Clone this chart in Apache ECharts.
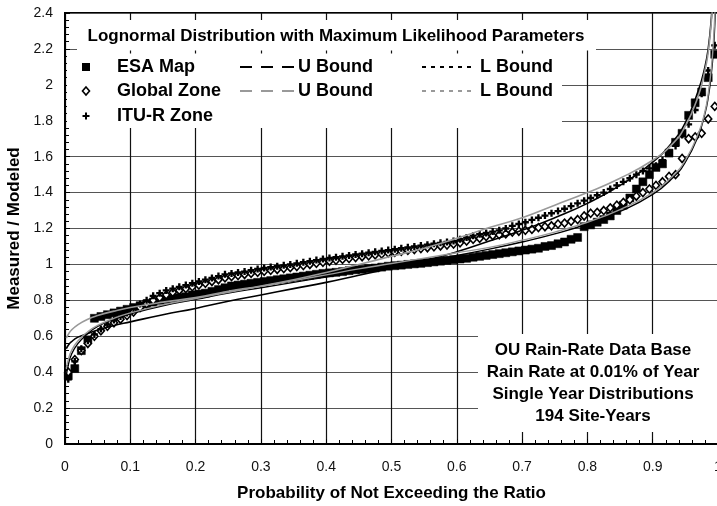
<!DOCTYPE html>
<html>
<head>
<meta charset="utf-8">
<script src="https://cdn.jsdelivr.net/npm/echarts@6/dist/echarts.min.js"></script>
<style>
html,body{margin:0;padding:0;background:#fff;}
#chart{width:717px;height:506px;}
</style>
</head>
<body>
<div id="chart"></div>
<script>
// ---------- data ----------
const xTicks = [0,0.1,0.2,0.3,0.4,0.5,0.6,0.7,0.8,0.9,1];
const yTicks = [0,0.2,0.4,0.6,0.8,1,1.2,1.4,1.6,1.8,2,2.2,2.4];

const probs = [0.005,0.015,0.025,0.035,0.045,0.055,0.065,0.075,0.085,0.095,
0.105,0.115,0.125,0.135,0.145,0.155,0.165,0.175,0.185,0.195,
0.205,0.215,0.225,0.235,0.245,0.255,0.265,0.275,0.285,0.295,
0.305,0.315,0.325,0.335,0.345,0.355,0.365,0.375,0.385,0.395,
0.405,0.415,0.425,0.435,0.445,0.455,0.465,0.475,0.485,0.495,
0.505,0.515,0.525,0.535,0.545,0.555,0.565,0.575,0.585,0.595,
0.605,0.615,0.625,0.635,0.645,0.655,0.665,0.675,0.685,0.695,
0.705,0.715,0.725,0.735,0.745,0.755,0.765,0.775,0.785,0.795,
0.805,0.815,0.825,0.835,0.845,0.855,0.865,0.875,0.885,0.895,
0.905,0.915,0.925,0.935,0.945,0.955,0.965,0.975,0.985,0.995];

const esaMap = [0.38,0.42,0.52,0.58,0.70,0.71,0.72,0.73,0.74,0.75,
0.76,0.77,0.78,0.79,0.80,0.805,0.81,0.815,0.82,0.83,
0.835,0.84,0.85,0.86,0.87,0.88,0.885,0.89,0.895,0.90,
0.905,0.91,0.915,0.92,0.925,0.93,0.935,0.94,0.945,0.95,
0.953,0.956,0.96,0.965,0.97,0.973,0.977,0.98,0.985,0.99,
0.993,0.996,1.0,1.003,1.006,1.01,1.014,1.018,1.022,1.026,
1.03,1.034,1.04,1.045,1.05,1.055,1.06,1.065,1.07,1.075,
1.08,1.085,1.09,1.10,1.105,1.115,1.125,1.14,1.15,1.21,
1.22,1.235,1.25,1.27,1.30,1.33,1.37,1.42,1.46,1.50,
1.54,1.56,1.62,1.68,1.73,1.83,1.90,1.96,2.04,2.17];

const globalZone = [0.40,0.47,0.52,0.56,0.60,0.63,0.655,0.675,0.695,0.715,
0.735,0.76,0.78,0.80,0.815,0.83,0.845,0.855,0.865,0.875,
0.885,0.895,0.905,0.915,0.925,0.932,0.938,0.944,0.95,0.956,
0.962,0.967,0.972,0.977,0.982,0.988,0.994,1.0,1.006,1.012,
1.018,1.023,1.028,1.033,1.038,1.043,1.048,1.053,1.058,1.063,
1.068,1.073,1.078,1.083,1.088,1.093,1.098,1.103,1.108,1.113,
1.12,1.13,1.14,1.145,1.155,1.16,1.165,1.17,1.18,1.185,
1.19,1.195,1.205,1.21,1.215,1.225,1.23,1.24,1.25,1.27,
1.285,1.29,1.30,1.315,1.33,1.345,1.36,1.38,1.40,1.42,
1.44,1.46,1.49,1.50,1.59,1.70,1.71,1.73,1.81,1.88];

const ituZone = [0.36,0.46,0.53,0.575,0.61,0.64,0.665,0.69,0.71,0.73,
0.755,0.78,0.80,0.825,0.84,0.855,0.865,0.875,0.885,0.895,
0.905,0.915,0.925,0.935,0.945,0.95,0.955,0.96,0.968,0.975,
0.98,0.985,0.99,0.995,1.0,1.006,1.012,1.018,1.024,1.03,
1.036,1.04,1.045,1.05,1.055,1.06,1.065,1.07,1.075,1.08,
1.085,1.09,1.095,1.10,1.105,1.11,1.115,1.12,1.125,1.13,
1.14,1.15,1.16,1.168,1.175,1.183,1.19,1.20,1.215,1.225,
1.235,1.248,1.26,1.272,1.285,1.297,1.31,1.325,1.34,1.355,
1.37,1.385,1.40,1.42,1.44,1.46,1.48,1.50,1.52,1.535,
1.55,1.58,1.62,1.66,1.72,1.78,1.86,1.95,2.08,2.22];

const curveProbs = [0.002,0.005,0.01,0.02,0.035,0.05,0.075,0.1,0.15,0.2,0.25,0.3,0.35,0.4,0.45,0.5,
0.55,0.6,0.65,0.7,0.75,0.8,0.85,0.9,0.93,0.95,0.97,0.98,0.985,0.99,0.993,0.995,0.997];

const esaUBound = [0.53,0.55,0.57,0.595,0.615,0.635,0.66,0.68,0.72,0.755,0.795,0.83,0.865,0.9,0.94,0.98,
1.02,1.07,1.13,1.19,1.26,1.34,1.44,1.57,1.68,1.79,1.97,2.1,2.2,2.38,2.55,2.7,2.9];
const esaLBound = [0.38,0.44,0.50,0.56,0.615,0.655,0.695,0.725,0.77,0.805,0.84,0.87,0.9,0.93,0.96,0.99,
1.02,1.05,1.085,1.125,1.17,1.225,1.295,1.39,1.48,1.57,1.72,1.84,1.93,2.07,2.2,2.33,2.5];
const globalUBound = [0.59,0.61,0.635,0.665,0.695,0.715,0.74,0.76,0.79,0.815,0.85,0.88,0.915,0.955,1.0,1.045,
1.09,1.145,1.205,1.26,1.33,1.40,1.48,1.58,1.67,1.77,1.94,2.08,2.18,2.36,2.52,2.65,2.85];
const globalLBound = [0.42,0.47,0.52,0.575,0.625,0.66,0.70,0.73,0.775,0.81,0.845,0.878,0.91,0.942,0.975,1.005,
1.035,1.065,1.095,1.135,1.18,1.235,1.305,1.40,1.49,1.58,1.73,1.85,1.95,2.1,2.24,2.38,2.55];

const titleText = 'Lognormal Distribution with Maximum Likelihood Parameters';
const noteLines = ['OU Rain-Rate Data Base','Rain Rate at 0.01% of Year','Single Year Distributions','194 Site-Years'];

// ---------- build ----------
const FONT = "'Liberation Sans', Arial, Helvetica, sans-serif";
function pairs(xs, ys){ return xs.map((x,i)=>[x, ys[i]]); }
const plusPath = 'path://M2,0H4V2H6V4H4V6H2V4H0V2H2Z';

const chart = echarts.init(document.getElementById('chart'), null, {renderer:'canvas'});

function txt(text, x, y, size, align){
  return {type:'text', z:60, style:{text:text, x:x, y:y, font:'bold '+size+'px '+FONT, fill:'#000',
    textAlign:align||'left', textVerticalAlign:'middle', align:align||'left', verticalAlign:'middle'}};
}
function seg(x1,x2,y,color,dash){
  return {type:'line', z:60, shape:{x1:x1,y1:y,x2:x2,y2:y}, style:{stroke:color, lineWidth:2, lineDash:dash}};
}

const graphics = [
  {type:'rect', z:50, shape:{x:77,y:20,width:519,height:30.5}, style:{fill:'#fff'}},
  {type:'rect', z:50, shape:{x:67,y:53.5,width:495,height:74.5}, style:{fill:'#fff'}},
  {type:'rect', z:50, shape:{x:478,y:334,width:245,height:98}, style:{fill:'#fff'}},
  txt(titleText, 336, 36, 17, 'center'),
  {type:'rect', z:60, shape:{x:82,y:63,width:8,height:8}, style:{fill:'#000'}},
  {type:'polygon', z:60, shape:{points:[[86,87],[89.5,91],[86,95],[82.5,91]]}, style:{fill:'#fff', stroke:'#000', lineWidth:1.6}},
  {type:'polygon', z:60, shape:{points:[[85,112.5],[87,112.5],[87,115],[89.5,115],[89.5,117],[87,117],[87,119.5],[85,119.5],[85,117],[82.5,117],[82.5,115],[85,115]]}, style:{fill:'#000'}},
  txt('ESA Map', 117, 67, 18),
  txt('Global Zone', 117, 91, 18),
  txt('ITU-R Zone', 117, 116, 18),
  seg(240, 294, 67, '#000', [12,9]),
  seg(240, 294, 91, '#999', [12,9]),
  txt('U Bound', 298, 67, 18),
  txt('U Bound', 298, 91, 18),
  seg(422, 472, 67, '#000', [4,5]),
  seg(422, 472, 91, '#999', [4,5]),
  txt('L Bound', 480, 67, 18),
  txt('L Bound', 480, 91, 18)
];
noteLines.forEach((t,i)=>graphics.push(txt(t, 593, 350 + i*22, 17, 'center')));

const option = {
  animation:false,
  backgroundColor:'#fff',
  textStyle:{fontFamily:FONT},
  grid:{left:65, right:-1, top:13, bottom:62, containLabel:false, outerBoundsMode:'none',
        show:true, borderColor:'#000', borderWidth:2, backgroundColor:'transparent'},
  xAxis:{
    type:'value', min:xTicks[0], max:xTicks[xTicks.length-1], interval:0.1,
    name:'Probability of Not Exceeding the Ratio', nameLocation:'middle', nameGap:41,
    nameTextStyle:{fontFamily:FONT, fontWeight:'bold', fontSize:17, color:'#000'},
    axisLine:{show:true, onZero:false, lineStyle:{color:'#000', width:2}},
    axisTick:{show:true, inside:true, length:5, lineStyle:{color:'#000'}},
    minorTick:{show:true, splitNumber:5, length:4, lineStyle:{color:'#000', width:1}},
    axisLabel:{fontFamily:FONT, fontSize:14, color:'#111', margin:16, showMaxLabel:true},
    splitLine:{show:true, lineStyle:{color:'#111', width:1.2}}
  },
  yAxis:{
    type:'value', min:yTicks[0], max:yTicks[yTicks.length-1], interval:0.2,
    name:'Measured / Modeled', nameLocation:'middle', nameGap:41, nameRotate:90,
    nameTextStyle:{fontFamily:FONT, fontWeight:'bold', fontSize:17, color:'#000'},
    axisLine:{show:true, onZero:false, lineStyle:{color:'#000', width:2}},
    axisTick:{show:true, inside:true, length:5, lineStyle:{color:'#000'}},
    minorTick:{show:true, splitNumber:5, length:4, lineStyle:{color:'#000', width:1}},
    axisLabel:{fontFamily:FONT, fontSize:14, color:'#111', margin:12,
      formatter:function(v){ return String(Math.round(v*10)/10); }},
    splitLine:{show:true, lineStyle:{color:'#555', width:1.2}}
  },
  series:[
    {name:'ESA Map', type:'scatter', data:pairs(probs, esaMap), symbol:'rect', symbolSize:8,
     itemStyle:{color:'#000', borderColor:'#000', borderWidth:0.5, opacity:1}, z:3},
    {name:'Global Zone', type:'scatter', data:pairs(probs, globalZone), symbol:'diamond', symbolSize:[7,8],
     itemStyle:{color:'#fff', borderColor:'#000', borderWidth:1.6, opacity:1}, z:4},
    {name:'ITU-R Zone', type:'scatter', data:pairs(probs, ituZone), symbol:plusPath, symbolSize:7,
     itemStyle:{color:'#000', opacity:1}, z:5},
    {name:'ESA U', type:'line', data:pairs(curveProbs, esaUBound), showSymbol:false, smooth:true, clip:true,
     lineStyle:{color:'#000', width:1.6}, z:6},
    {name:'ESA L', type:'line', data:pairs(curveProbs, esaLBound), showSymbol:false, smooth:true, clip:true,
     lineStyle:{color:'#000', width:1.4}, z:6},
    {name:'Global U', type:'line', data:pairs(curveProbs, globalUBound), showSymbol:false, smooth:true, clip:true,
     lineStyle:{color:'#999', width:1.6}, z:6},
    {name:'Global L', type:'line', data:pairs(curveProbs, globalLBound), showSymbol:false, smooth:true, clip:true,
     lineStyle:{color:'#999', width:1.4}, z:6}
  ],
  graphic:graphics
};
chart.setOption(option);
</script>
</body>
</html>
